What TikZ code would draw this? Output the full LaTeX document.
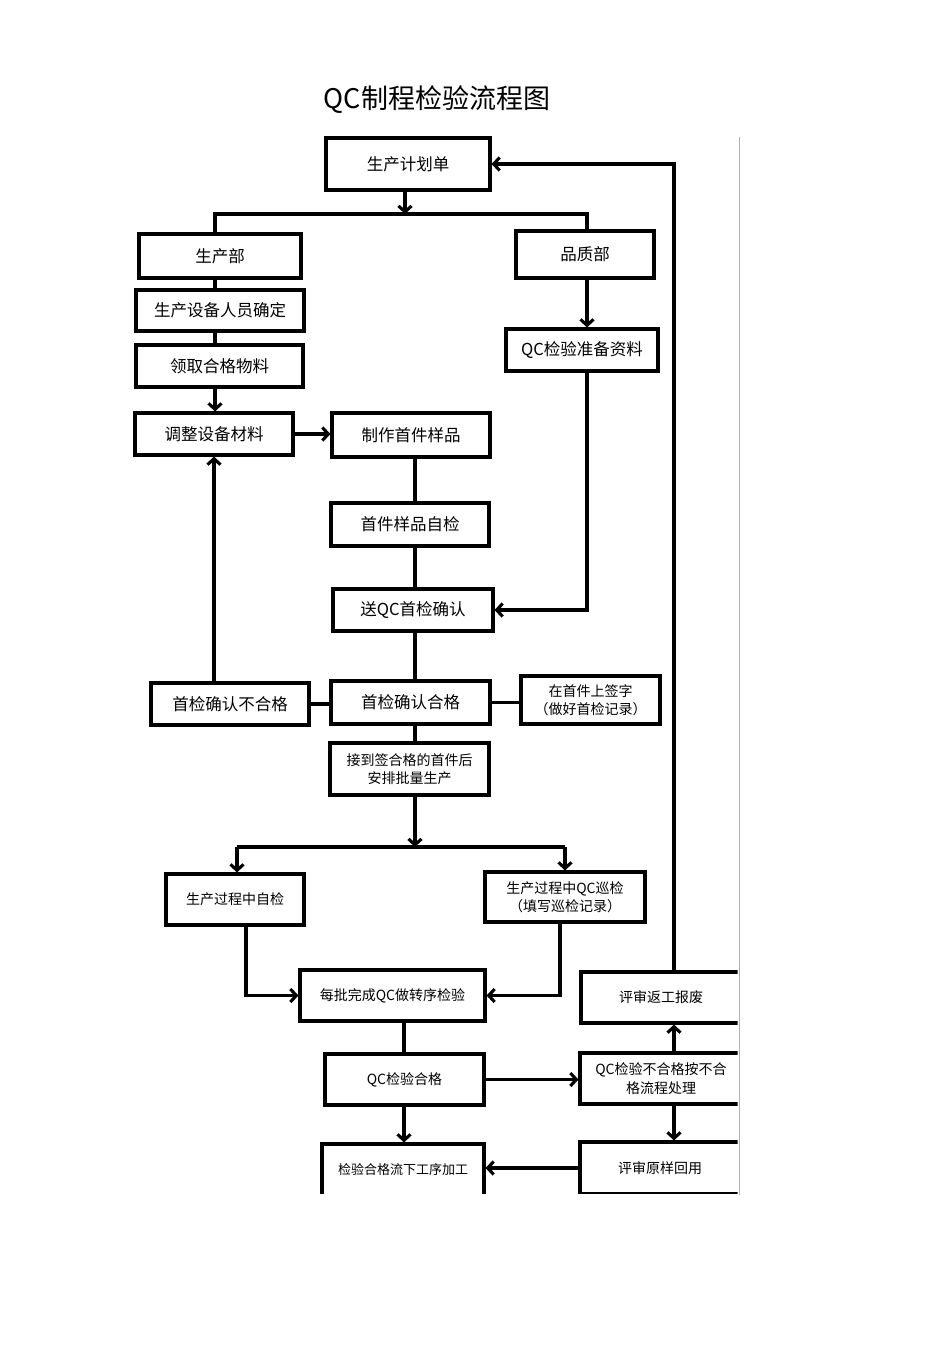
\documentclass[tikz,border=0pt]{standalone}
\usepackage{fontspec}
\newfontfamily\cjk{Noto Sans CJK SC}
\usetikzlibrary{arrows.meta}
\begin{document}
\begin{tikzpicture}[x=1pt,y=-1pt,
  box/.style={draw, line width=3.1pt, inner sep=0pt, align=center, font=\cjk\fontsize{16.5}{19}\selectfont},
  sbox/.style={box, font=\cjk\fontsize{14}{18.5}\selectfont},
  ln/.style={line width=3.1pt},
  arr/.style={line width=3.1pt, -{Straight Barb[length=6pt,width=13pt]}}]
\useasboundingbox (0,0) rectangle (950,1345);
\node[font=\cjk\fontsize{27}{30}\selectfont] (title) at (437,100) {QC制程检验流程图};
\begin{scope}
\clip (0,0) rectangle (737.5,1193.5);
% nodes
\node[box, minimum width=164pt, minimum height=52pt] (jh) at (408,164) {生产计划单};
\node[box, minimum width=162pt, minimum height=44pt] (scb) at (220,256) {生产部};
\node[box, minimum width=168pt, minimum height=41pt] (sbry) at (220,310.5) {生产设备人员确定};
\node[box, minimum width=167pt, minimum height=42pt] (lq) at (219.5,366) {领取合格物料};
\node[box, minimum width=158pt, minimum height=42pt] (tz) at (214,434) {调整设备材料};
\node[box, minimum width=158pt, minimum height=44pt] (zz) at (411,435) {制作首件样品};
\node[box, minimum width=158pt, minimum height=43pt] (zj) at (410,524.5) {首件样品自检};
\node[box, minimum width=160pt, minimum height=42pt] (sqc) at (413,610) {送QC首检确认};
\node[box, minimum width=138pt, minimum height=47pt] (pzb) at (585,254.5) {品质部};
\node[box, minimum width=152pt, minimum height=42pt] (zbzl) at (582,350) {QC检验准备资料};
\node[box, minimum width=159pt, minimum height=43pt] (hg) at (410.5,702.5) {首检确认合格};
\node[box, minimum width=158pt, minimum height=42pt] (bhg) at (230,704) {首检确认不合格};
\node[sbox, minimum width=139pt, minimum height=48pt] (qz) at (590.5,700) {在首件上签字\\（做好首检记录）};
\node[sbox, minimum width=159pt, minimum height=52pt] (jd) at (409.5,769) {接到签合格的首件后\\安排批量生产};
\node[sbox, minimum width=138pt, minimum height=51pt] (zj2) at (235,899.5) {生产过程中自检};
\node[sbox, minimum width=160pt, minimum height=50pt] (xj) at (565,897) {生产过程中QC巡检\\（填写巡检记录）};
\node[sbox, minimum width=185pt, minimum height=51pt] (mp) at (392.5,995.5) {每批完成QC做转序检验};
\node[sbox, minimum width=159pt, minimum height=51pt] (qchg) at (404.5,1079.5) {QC检验合格};
\node[sbox, minimum width=162pt, minimum height=51pt] (bhgc) at (661,1078.5) {QC检验不合格按不合\\格流程处理};
\node[sbox, minimum width=160pt, minimum height=51pt] (fg) at (661,997.5) {评审返工报废};
\node[sbox, minimum width=160pt, minimum height=52pt] (hy) at (660,1168) {评审原样回用};
\node[sbox, minimum width=162pt, minimum height=52pt, font=\cjk\fontsize{13}{15}\selectfont] (xgx) at (403,1170) {检验合格流下工序加工};
% coordinates
\coordinate (b1) at (405,214);
\coordinate (b1l) at (215,214);
\coordinate (b1r) at (587,214);
\coordinate (b2) at (415,847);
\coordinate (b2l) at (237,847);
\coordinate (b2r) at (565,847);
\coordinate (rx) at (674,0);
\coordinate (lx) at (246,0);
\coordinate (mx) at (560,0);
\coordinate (qx) at (404,0);
% connectors
\draw[arr] (jh.south -| b1) -- (b1);
\draw[ln] (scb.north -| b1l) -- (b1l) -- (b1r) -- (pzb.north -| b1r);
\draw[ln] (scb.south -| b1l) -- (sbry.north -| b1l);
\draw[ln] (sbry.south -| b1l) -- (lq.north -| b1l);
\draw[arr] (lq.south -| b1l) -- (tz.north -| b1l);
\draw[arr] (tz.east) -- (tz.east -| zz.west);
\draw[ln] (zz.south -| b2) -- (zj.north -| b2);
\draw[ln] (zj.south -| b2) -- (sqc.north -| b2);
\draw[ln] (sqc.south -| b2) -- (hg.north -| b2);
\draw[ln] (hg.south -| b2) -- (jd.north -| b2);
\draw[arr] (pzb.south -| b1r) -- (zbzl.north -| b1r);
\draw[arr] (zbzl.south -| b1r) |- (sqc.east);
\draw[ln] (bhg.east) -- (bhg.east -| hg.west);
\draw[ln] (hg.east) -- (hg.east -| qz.west);
\draw[arr] (bhg.north -| tz.south) -- (tz.south);
\draw[arr] (jd.south -| b2) -- (b2);
\draw[ln] (b2l) -- (b2r);
\draw[arr] (b2l) -- (zj2.north -| b2l);
\draw[arr] (b2r) -- (xj.north -| b2r);
\draw[arr] (zj2.south -| lx) |- (mp.west);
\draw[arr] (xj.south -| mx) |- (mp.east);
\draw[ln] (mp.south -| qx) -- (qchg.north -| qx);
\draw[arr] (qchg.east) -- (qchg.east -| bhgc.west);
\draw[arr] (qchg.south -| qx) -- (xgx.north -| qx);
\draw[arr] (bhgc.north -| rx) -- (fg.south -| rx);
\draw[arr] (bhgc.south -| rx) -- (hy.north -| rx);
\draw[arr] (hy.west) -- (hy.west -| xgx.east);
\draw[arr] (fg.north -| rx) |- (jh.east);
\end{scope}
\draw[gray!60, line width=0.8pt] (739,137) -- (739,1195);
\end{tikzpicture}
\end{document}
